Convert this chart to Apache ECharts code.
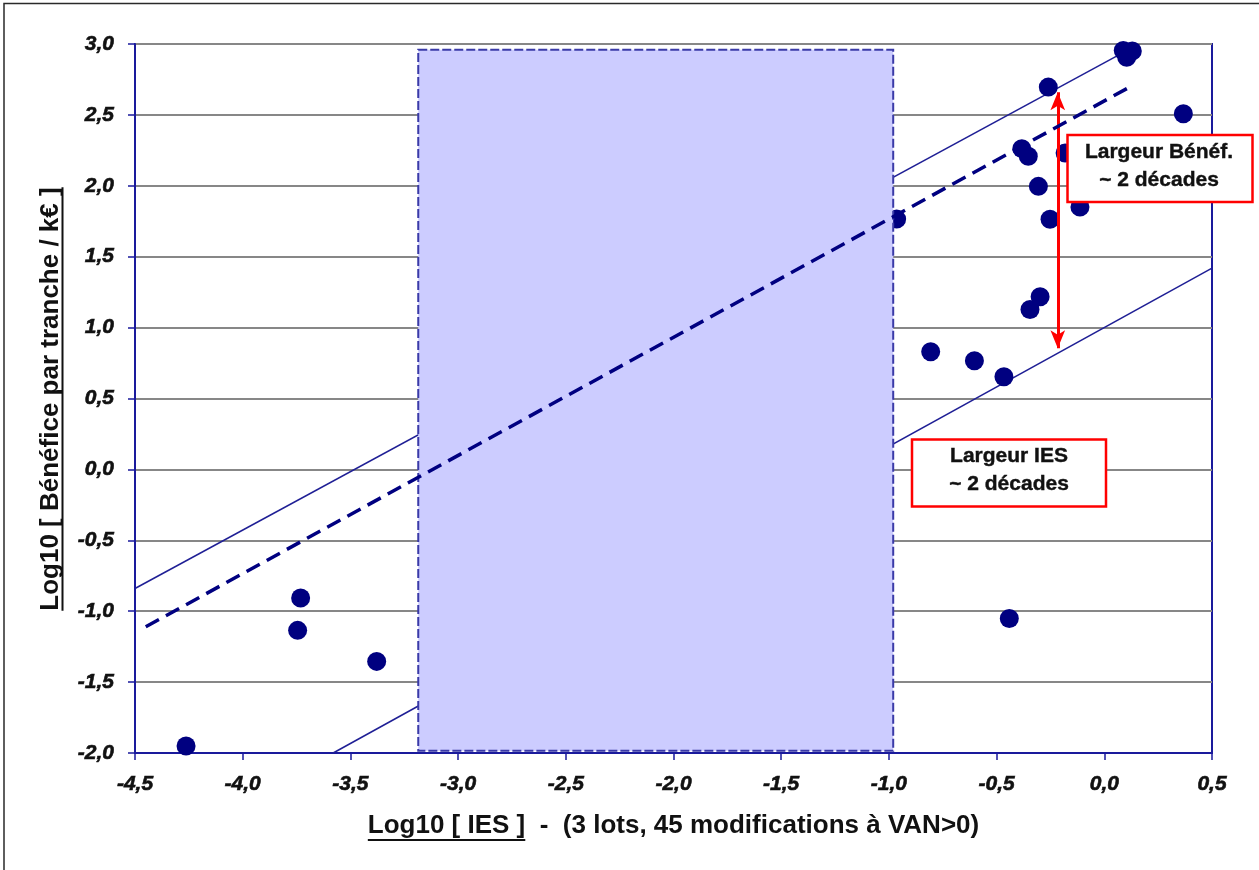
<!DOCTYPE html>
<html>
<head>
<meta charset="utf-8">
<script src="https://cdn.jsdelivr.net/npm/echarts@6/dist/echarts.min.js"></script>
<style>
  html, body { margin: 0; padding: 0; background: #ffffff; }
  #chart { width: 1259px; height: 870px; }
</style>
</head>
<body>
<div id="chart"></div>
<script>
// Measured modifications: log10(IES) vs log10(benefit per tranche, k€)
const pointsX = [-4.263, -3.731, -3.745, -3.378, -0.964, -0.806, -0.603, -0.466, -0.441,
                 0.088, 0.130, 0.104, -0.260, 0.367, -0.383, -0.353, -0.182, -0.306,
                 -0.252, -0.113, -0.298, -0.345];
const pointsY = [-1.950, -0.907, -1.135, -1.354, 1.765, 0.830, 0.766, 0.653, -1.051,
                 2.954, 2.950, 2.907, 2.696, 2.508, 2.262, 2.208, 2.231, 1.996,
                 1.764, 1.851, 1.217, 1.128];

// Trend line (dashed) and the two envelope lines
const trendLine = [[-4.45, -1.11], [0.11, 2.69]];
const upperLine = [[-4.50, -0.84], [0.10, 2.95]];
const lowerLine = [[-3.58, -2.00], [0.50, 1.42]];

// Empty IES zone: [xMin, yMin, xMax, yMax]
const iesGap = [-3.185, -1.985, -0.98, 2.96];

// Benefit width arrow: x, yTop, yBottom
const benefitArrow = [-0.216, 2.66, 0.855];

// Axis ranges and tick step
const xRange = [-4.5, 0.5];
const yRange = [-2.0, 3.0];
const tickStep = 0.5;

const xTitleMain = 'Log10 [ IES ]';
const xTitleRest = '  -  (3 lots, 45 modifications à VAN>0)';
const yTitle = 'Log10 [ Bénéfice par tranche / k€ ]';
const boxBenefit = 'Largeur Bénéf.\n~ 2 décades';
const boxIes = 'Largeur IES\n~ 2 décades';

const scatterData = pointsX.map((x, i) => [x, pointsY[i]]);

const FONT_FAMILY = '"Liberation Sans", Arial, sans-serif';
const AXIS_BLUE = '#1a1a9c';
const NAVY = '#000080';
const INK = '#111111';

function textWidth(str, font) {
  const ctx = document.createElement('canvas').getContext('2d');
  ctx.font = font;
  return ctx.measureText(str).width;
}

const titleFont = 'bold 26px ' + FONT_FAMILY;
const boxFont = 'bold 21px ' + FONT_FAMILY;
const xTitleFull = xTitleMain + xTitleRest;
const xTitleW = textWidth(xTitleFull, titleFont);
const xMainW = textWidth(xTitleMain, titleFont);
const yTitleW = textWidth(yTitle, titleFont);

const grid = { left: 135, top: 44, width: 1077, height: 709 };
const xTitleCx = grid.left + grid.width / 2;
const xTitleCy = 826;
const yTitleCx = 51;
const yTitleCy = 399;

const fmt = v => v.toFixed(1).replace('.', ',');

const tickLabel = {
  formatter: fmt, margin: 21, color: INK,
  fontFamily: FONT_FAMILY, fontWeight: 'bold', fontStyle: 'italic', fontSize: 21,
  textBorderColor: INK, textBorderWidth: 0.6
};

const chart = echarts.init(document.getElementById('chart'), null, { renderer: 'canvas' });

const option = {
  animation: false,
  backgroundColor: '#ffffff',
  grid: Object.assign({ show: true, borderColor: AXIS_BLUE, borderWidth: 2, backgroundColor: 'transparent' }, grid),
  xAxis: {
    type: 'value', min: xRange[0], max: xRange[1], interval: tickStep,
    axisLine: { show: true, onZero: false, lineStyle: { color: AXIS_BLUE, width: 2 } },
    axisTick: { show: true, length: 7, lineStyle: { color: AXIS_BLUE, width: 1.5 } },
    splitLine: { show: false },
    axisLabel: tickLabel
  },
  yAxis: {
    type: 'value', min: yRange[0], max: yRange[1], interval: tickStep,
    axisLine: { show: true, onZero: false, lineStyle: { color: AXIS_BLUE, width: 2 } },
    axisTick: { show: true, length: 7, lineStyle: { color: AXIS_BLUE, width: 1.5 } },
    splitLine: { show: true, lineStyle: { color: '#878787', width: 2 } },
    axisLabel: tickLabel
  },
  series: [
    {
      type: 'line', z: 2, data: upperLine, showSymbol: false, silent: true,
      lineStyle: { color: '#1f1f95', width: 1.5 }
    },
    {
      type: 'line', z: 2, data: lowerLine, showSymbol: false, silent: true,
      lineStyle: { color: '#1f1f95', width: 1.5 }
    },
    {
      type: 'scatter', z: 3, data: scatterData, symbol: 'circle', symbolSize: 19,
      itemStyle: { color: NAVY, opacity: 1 }
    },
    {
      type: 'custom', z: 4, silent: true, clip: false,
      data: [iesGap],
      encode: { x: [0, 2], y: [1, 3] },
      renderItem: function (params, api) {
        const p0 = api.coord([api.value(0), api.value(3)]);
        const p1 = api.coord([api.value(2), api.value(1)]);
        return {
          type: 'rect',
          shape: { x: p0[0], y: p0[1], width: p1[0] - p0[0], height: p1[1] - p0[1] },
          style: { fill: '#ccccff', stroke: '#3a3aa8', lineWidth: 2, lineDash: [9, 3] }
        };
      }
    },
    {
      type: 'line', z: 5, data: trendLine, showSymbol: false, silent: true,
      lineStyle: { color: NAVY, width: 3.5, type: [15, 8] },
      markLine: {
        silent: true,
        symbol: ['arrow', 'arrow'],
        symbolSize: [11, 18],
        label: { show: false },
        lineStyle: { color: '#ff0000', width: 3, type: 'solid' },
        data: [[
          { coord: [benefitArrow[0], benefitArrow[1]] },
          { coord: [benefitArrow[0], benefitArrow[2]] }
        ]]
      }
    }
  ],
  graphic: [
    // outer chart frame (left and top edges)
    {
      type: 'polyline', z: 1, silent: true,
      shape: { points: [[4, 870], [4, 3.5], [1259, 3.5]] },
      style: { stroke: '#2a2a2a', lineWidth: 1.5, fill: null }
    },
    // x-axis title
    {
      type: 'text', z: 10, silent: true,
      x: xTitleCx, y: xTitleCy,
      style: {
        text: xTitleFull, font: titleFont, fill: INK,
        textAlign: 'center', textVerticalAlign: 'middle', align: 'center', verticalAlign: 'middle'
      }
    },
    {
      type: 'line', z: 10, silent: true,
      shape: { x1: xTitleCx - xTitleW / 2, y1: 840, x2: xTitleCx - xTitleW / 2 + xMainW, y2: 840 },
      style: { stroke: INK, lineWidth: 2 }
    },
    // y-axis title
    {
      type: 'text', z: 10, silent: true,
      x: yTitleCx, y: yTitleCy, rotation: Math.PI / 2,
      style: {
        text: yTitle, font: titleFont, fill: INK,
        textAlign: 'center', textVerticalAlign: 'middle', align: 'center', verticalAlign: 'middle'
      }
    },
    {
      type: 'line', z: 10, silent: true,
      shape: { x1: 62.5, y1: yTitleCy - yTitleW / 2, x2: 62.5, y2: yTitleCy + yTitleW / 2 },
      style: { stroke: INK, lineWidth: 2 }
    },
    // annotation boxes
    {
      type: 'group', z: 20, silent: true,
      children: [
        {
          type: 'rect', z: 20,
          shape: { x: 1067.5, y: 135, width: 185, height: 67 },
          style: { fill: '#ffffff', stroke: '#ff0000', lineWidth: 2.5 }
        },
        {
          type: 'text', z: 21,
          x: 1159, y: 166,
          style: {
            text: boxBenefit, font: boxFont, fill: INK, lineHeight: 28,
            stroke: INK, lineWidth: 0.4,
            textAlign: 'center', textVerticalAlign: 'middle', align: 'center', verticalAlign: 'middle'
          }
        }
      ]
    },
    {
      type: 'group', z: 20, silent: true,
      children: [
        {
          type: 'rect', z: 20,
          shape: { x: 912, y: 439.5, width: 194, height: 67 },
          style: { fill: '#ffffff', stroke: '#ff0000', lineWidth: 2.5 }
        },
        {
          type: 'text', z: 21,
          x: 1009, y: 470.5,
          style: {
            text: boxIes, font: boxFont, fill: INK, lineHeight: 28,
            stroke: INK, lineWidth: 0.4,
            textAlign: 'center', textVerticalAlign: 'middle', align: 'center', verticalAlign: 'middle'
          }
        }
      ]
    }
  ]
};

chart.setOption(option);
</script>
</body>
</html>
